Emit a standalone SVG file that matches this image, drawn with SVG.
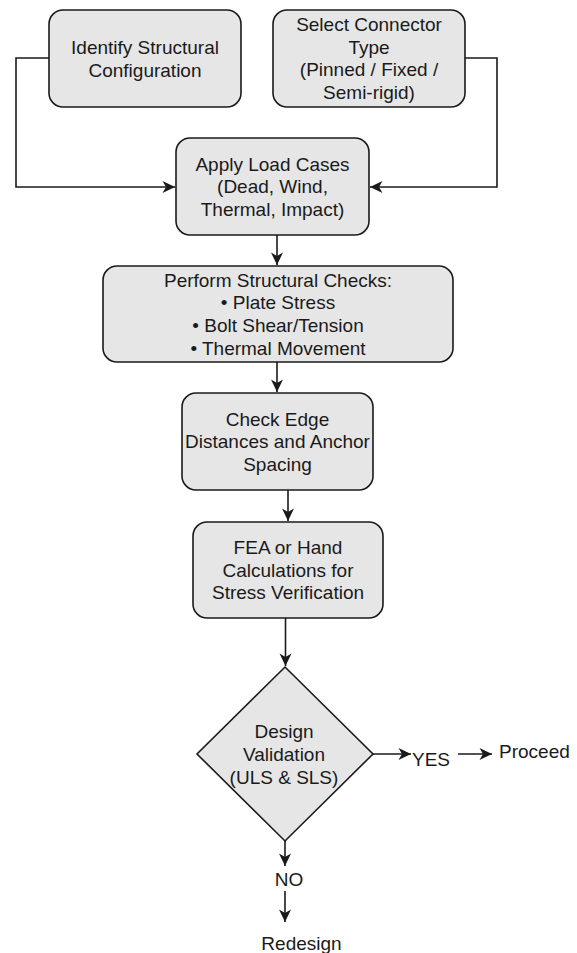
<svg xmlns="http://www.w3.org/2000/svg" width="577" height="953" viewBox="0 0 577 953">
  <style>
    .node { fill: #e6e6e6; stroke: #1a1a1a; stroke-width: 1.6; }
    .lbl { font-family: "Liberation Sans", Arial, sans-serif; font-size: 19px; fill: #1a1a1a; text-anchor: middle; }
    .free { font-family: "Liberation Sans", Arial, sans-serif; font-size: 19px; fill: #1a1a1a; }
    .edge { fill: none; stroke: #1a1a1a; stroke-width: 1.6; }
  </style>
  <defs>
    <marker id="arrow" viewBox="-14 -7 15 14" refX="0" refY="0" markerWidth="15" markerHeight="14" markerUnits="userSpaceOnUse" orient="auto">
      <path d="M0,0 L-12.5,-6 L-9,0 L-12.5,6 Z" fill="#1a1a1a"/>
    </marker>
  </defs>
  <rect width="577" height="953" fill="#ffffff"/>

  <g id="connectors">
    <polyline class="edge" points="49,58 16,58 16,187 175,187" marker-end="url(#arrow)"/>
    <polyline class="edge" points="465,58 497,58 497,187 370,187" marker-end="url(#arrow)"/>
    <line class="edge" x1="277" y1="235" x2="277" y2="265" marker-end="url(#arrow)"/>
    <line class="edge" x1="277" y1="362" x2="277" y2="392" marker-end="url(#arrow)"/>
    <line class="edge" x1="288" y1="490" x2="288" y2="521" marker-end="url(#arrow)"/>
    <line class="edge" x1="285.5" y1="618" x2="285.5" y2="666" marker-end="url(#arrow)"/>
    <line class="edge" x1="373" y1="754" x2="411" y2="754" marker-end="url(#arrow)"/>
    <line class="edge" x1="458" y1="754" x2="492" y2="754" marker-end="url(#arrow)"/>
    <line class="edge" x1="285" y1="841" x2="285" y2="866" marker-end="url(#arrow)"/>
    <line class="edge" x1="285" y1="891" x2="285" y2="922" marker-end="url(#arrow)"/>
  </g>

  <g id="identify">
    <rect class="node" x="49" y="10" width="192" height="97" rx="14" ry="14"/>
    <text class="lbl"><tspan x="145" y="54">Identify Structural</tspan><tspan x="145" y="76.5">Configuration</tspan></text>
  </g>

  <g id="select">
    <rect class="node" x="273" y="10" width="192" height="97" rx="14" ry="14"/>
    <text class="lbl"><tspan x="369" y="31.4">Select Connector</tspan><tspan x="369" y="53.9">Type</tspan><tspan x="369" y="76.4">(Pinned / Fixed /</tspan><tspan x="369" y="98.9">Semi-rigid)</tspan></text>
  </g>

  <g id="loads">
    <rect class="node" x="176" y="138" width="193" height="97" rx="14" ry="14"/>
    <text class="lbl"><tspan x="272.5" y="170.6">Apply Load Cases</tspan><tspan x="272.5" y="193.1">(Dead, Wind,</tspan><tspan x="272.5" y="215.6">Thermal, Impact)</tspan></text>
  </g>

  <g id="checks">
    <rect class="node" x="103" y="266" width="350" height="96" rx="14" ry="14"/>
    <text class="lbl"><tspan x="278" y="286.6">Perform Structural Checks:</tspan><tspan x="278" y="309.3">• Plate Stress</tspan><tspan x="278" y="332">• Bolt Shear/Tension</tspan><tspan x="278" y="354.6">• Thermal Movement</tspan></text>
  </g>

  <g id="edge-distances">
    <rect class="node" x="182" y="393" width="191" height="97" rx="14" ry="14"/>
    <text class="lbl"><tspan x="277.5" y="425.6">Check Edge</tspan><tspan x="277.5" y="448.1">Distances and Anchor</tspan><tspan x="277.5" y="470.6">Spacing</tspan></text>
  </g>

  <g id="fea">
    <rect class="node" x="193" y="522" width="190" height="96" rx="14" ry="14"/>
    <text class="lbl"><tspan x="288" y="554.1">FEA or Hand</tspan><tspan x="288" y="576.6">Calculations for</tspan><tspan x="288" y="599.1">Stress Verification</tspan></text>
  </g>

  <g id="validation">
    <polygon class="node" points="285,667 373,754 285,841 197,754"/>
    <text class="lbl"><tspan x="284" y="737.6">Design</tspan><tspan x="284" y="760.6">Validation</tspan><tspan x="284" y="783.6">(ULS &amp; SLS)</tspan></text>
  </g>

  <g id="yes">
    <text class="free" x="412" y="765.5">YES</text>
  </g>
  <g id="proceed">
    <text class="free" x="499" y="758">Proceed</text>
  </g>
  <g id="no">
    <text class="lbl" x="289" y="886">NO</text>
  </g>
  <g id="redesign">
    <text class="lbl" x="301.5" y="949.5">Redesign</text>
  </g>
</svg>
